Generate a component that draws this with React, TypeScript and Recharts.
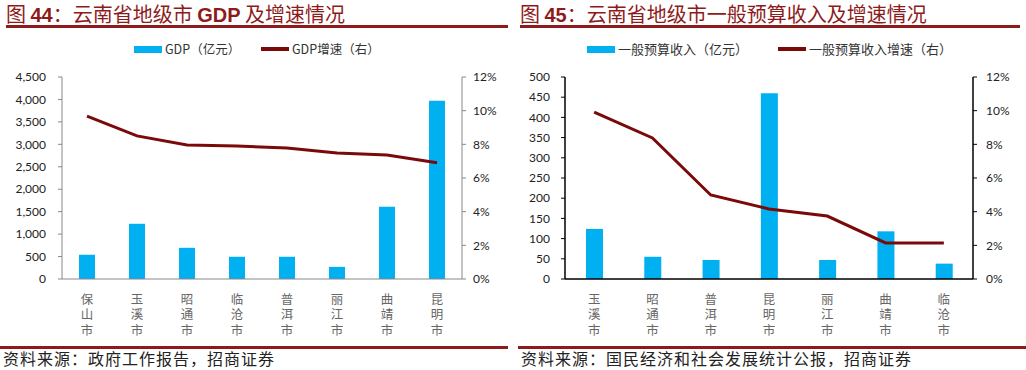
import React from 'react';
import { ComposedChart, Bar, Line, XAxis, YAxis } from 'recharts';

const gdpCities = ['保山市', '玉溪市', '昭通市', '临沧市', '普洱市', '丽江市', '曲靖市', '昆明市'];
const gdpValues = [540, 1230, 695, 495, 495, 270, 1610, 3970];
const gdpGrowth = [0.0968, 0.085, 0.0796, 0.079, 0.0778, 0.0749, 0.0737, 0.069];
const gdpTicks = [0, 500, 1000, 1500, 2000, 2500, 3000, 3500, 4000, 4500];

const budCities = ['玉溪市', '昭通市', '普洱市', '昆明市', '丽江市', '曲靖市', '临沧市'];
const budValues = [124, 55, 47, 460, 47, 118, 38];
const budGrowth = [0.0992, 0.0838, 0.0499, 0.0416, 0.0374, 0.0214, 0.0214];
const budTicks = [0, 50, 100, 150, 200, 250, 300, 350, 400, 450, 500];

const pctTicks = [0, 0.02, 0.04, 0.06, 0.08, 0.1, 0.12];

const BLUE = '#00B0F0';
const RED = '#7A0A0A';
const TITLE_RED = '#8E1B1B';
const NUM_FONT = 'Lato, "Liberation Sans", sans-serif';
const CJK_FONT = '"Noto Sans CJK SC", sans-serif';

const gdpData = gdpCities.map((c, i) => ({ city: c, v: gdpValues[i], g: gdpGrowth[i] }));
const budData = budCities.map((c, i) => ({ city: c, v: budValues[i], g: budGrowth[i] }));

const VertTick = (props: any) => {
  const { x, y, payload } = props;
  return (
    <text
      x={x}
      y={y + 13.5}
      fontSize={12.5}
      fill="#666"
      fontFamily={CJK_FONT}
      letterSpacing={3}
      style={{ writingMode: 'vertical-rl' as any }}
    >
      {String(payload.value)}
    </text>
  );
};

const fmtComma = (v: number) => v.toLocaleString('en-US');
const fmtPct = (v: number) => `${Math.round(v * 100)}%`;

const Title = ({ left, width, num, text }: any) => (
  <div style={{ position: 'absolute', left, top: 0, width, height: 28 }}>
    <div
      style={{
        position: 'absolute',
        left: 0,
        top: 0,
        whiteSpace: 'nowrap',
        fontFamily: CJK_FONT,
        fontSize: 20,
        lineHeight: '28px',
        color: TITLE_RED,
      }}
    >
      <span>图 </span>
      <span style={{ fontWeight: 'bold', fontFamily: '"Liberation Sans", sans-serif' }}>{num}</span>
      <span>：</span>
      {text}
    </div>
    <div style={{ position: 'absolute', left: 0, top: 25, width, height: 3, background: TITLE_RED }} />
  </div>
);

const Legend = ({ items }: any) => (
  <>
    {items.map((it: any, i: number) => (
      <div key={i} style={{ position: 'absolute', left: it.x, top: 40, height: 16, whiteSpace: 'nowrap' }}>
        {it.type === 'bar' ? (
          <div style={{ position: 'absolute', left: 0, top: 6, width: 28, height: 7, background: BLUE }} />
        ) : (
          <div style={{ position: 'absolute', left: 0, top: 7, width: 28, height: 4, background: RED }} />
        )}
        <div
          style={{
            position: 'absolute',
            left: 31,
            top: 0,
            fontFamily: CJK_FONT,
            fontSize: it.fs || 12.5,
            lineHeight: '18px',
            color: '#333',
          }}
        >
          {it.label}
        </div>
      </div>
    ))}
  </>
);

const Source = ({ left, width, text }: any) => (
  <>
    <div style={{ position: 'absolute', left, top: 346, width, height: 3, background: TITLE_RED }} />
    <div
      style={{
        position: 'absolute',
        left: left + 3,
        top: 348,
        whiteSpace: 'nowrap',
        fontFamily: CJK_FONT,
        fontSize: 16,
        letterSpacing: 1,
        lineHeight: '20px',
        color: '#222',
      }}
    >
      {text}
    </div>
  </>
);

export default function App() {
  return (
    <div
      style={{
        position: 'absolute',
        left: 0,
        top: 0,
        width: 1026,
        height: 370,
        background: '#fff',
        overflow: 'hidden',
      }}
    >
      <div style={{ position: 'absolute', left: 0, top: 0 }}>
        <ComposedChart width={510} height={370} data={gdpData} margin={{ top: 77, right: 0, left: 0, bottom: 31 }} barCategoryGap={0}>
          <XAxis
            dataKey="city"
            xAxisId={0}
            height={60}
            tick={<VertTick />}
            tickLine={false}
            tickSize={0}
            tickMargin={0}
            interval={0}
            axisLine={{ stroke: '#888', strokeWidth: 1 }}
          />
          <YAxis
            yAxisId="l"
            width={62}
            domain={[0, 4500]}
            ticks={gdpTicks}
            tickFormatter={fmtComma}
            tickSize={4}
            tickMargin={12}
            axisLine={{ stroke: '#888' }}
            tickLine={{ stroke: '#888' }}
            tick={{ fontSize: 12, fill: '#222', fontFamily: NUM_FONT }}
            interval={0}
          />
          <YAxis
            yAxisId="r"
            orientation="right"
            width={48}
            domain={[0, 0.12]}
            ticks={pctTicks}
            tickFormatter={fmtPct}
            tickSize={4}
            tickMargin={7}
            axisLine={{ stroke: '#888' }}
            tickLine={{ stroke: '#888' }}
            tick={{ fontSize: 12, fill: '#222', fontFamily: NUM_FONT, textAnchor: 'start' }}
            interval={0}
          />
          <Bar yAxisId="l" dataKey="v" fill={BLUE} barSize={16} isAnimationActive={false} />
          <Line yAxisId="r" dataKey="g" stroke={RED} strokeWidth={3} dot={false} isAnimationActive={false} />
        </ComposedChart>
      </div>

      <div style={{ position: 'absolute', left: 510, top: 0 }}>
        <ComposedChart width={516} height={370} data={budData} margin={{ top: 77, right: 0, left: 0, bottom: 31 }} barCategoryGap={0}>
          <XAxis
            dataKey="city"
            height={60}
            tick={<VertTick />}
            tickLine={false}
            tickSize={0}
            tickMargin={0}
            interval={0}
            axisLine={{ stroke: '#000', strokeWidth: 1.5 }}
          />
          <YAxis
            yAxisId="l"
            width={55}
            domain={[0, 500]}
            ticks={budTicks}
            tickSize={4}
            tickMargin={11}
            axisLine={{ stroke: '#000', strokeWidth: 1.5 }}
            tickLine={{ stroke: '#000' }}
            tick={{ fontSize: 12, fill: '#222', fontFamily: NUM_FONT }}
            interval={0}
          />
          <YAxis
            yAxisId="r"
            orientation="right"
            width={53}
            domain={[0, 0.12]}
            ticks={pctTicks}
            tickFormatter={fmtPct}
            tickSize={4}
            tickMargin={9}
            axisLine={{ stroke: '#000', strokeWidth: 1.5 }}
            tickLine={{ stroke: '#000' }}
            tick={{ fontSize: 12, fill: '#222', fontFamily: NUM_FONT, textAnchor: 'start' }}
            interval={0}
          />
          <Bar yAxisId="l" dataKey="v" fill={BLUE} barSize={17} isAnimationActive={false} />
          <Line yAxisId="r" dataKey="g" stroke={RED} strokeWidth={3} dot={false} isAnimationActive={false} />
        </ComposedChart>
      </div>

      <Title left={6} width={502} num="44" text={<><span>云南省地级市 </span><span style={{ fontWeight: 'bold', fontFamily: '"Liberation Sans", sans-serif' }}>GDP</span><span> 及增速情况</span></>} />
      <Title left={520} width={500} num="45" text={<span>云南省地级市一般预算收入及增速情况</span>} />

      <Legend
        items={[
          { type: 'bar', x: 134, label: 'GDP（亿元）' },
          { type: 'line', x: 261, label: 'GDP增速（右）' },
        ]}
      />
      <Legend
        items={[
          { type: 'bar', x: 587, label: '一般预算收入（亿元）', fs: 13 },
          { type: 'line', x: 778, label: '一般预算收入增速（右）', fs: 13 },
        ]}
      />

      <Source left={0} width={508} text="资料来源：政府工作报告，招商证券" />
      <Source left={518} width={508} text="资料来源：国民经济和社会发展统计公报，招商证券" />
    </div>
  );
}
